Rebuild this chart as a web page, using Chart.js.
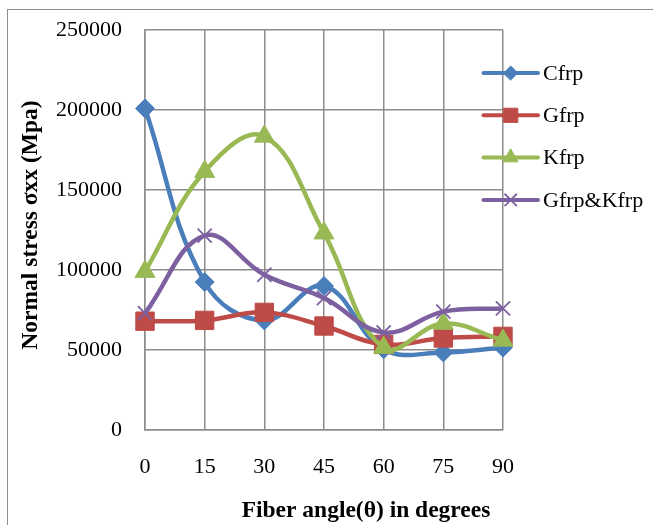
<!DOCTYPE html>
<html>
<head>
<meta charset="utf-8">
<script src="https://cdn.jsdelivr.net/npm/chart.js@4/dist/chart.umd.min.js"></script>
<style>
  html, body { margin: 0; padding: 0; background: #fff; }
  #wrap { position: relative; width: 653px; height: 525px; overflow: hidden; }
  #frame { position: absolute; left: 7px; top: 9px; width: 720px; height: 600px;
           border: 1.5px solid #8c8c8c; box-sizing: border-box; }
  canvas { position: absolute; left: 0; top: 0; }
</style>
</head>
<body>
<div id="wrap">
  <div id="frame"></div>
  <canvas id="c" width="653" height="525"></canvas>
</div>
<script>
// Fiber angle categories (degrees)
const angles = ['0', '15', '30', '45', '60', '75', '90'];

// Normal stress σxx (MPa) per laminate material
const cfrp     = [201000, 92500, 68500, 90000, 50500, 48500, 51500];
const gfrp     = [68000, 68500, 73500, 65000, 53500, 57500, 58500];
const kfrp     = [99000, 161500, 183500, 123000, 51500, 66500, 56000];
const gfrpKfrp = [73000, 121500, 97000, 82500, 61000, 74000, 76000];

const seriesNames = ['Cfrp', 'Gfrp', 'Kfrp', 'Gfrp&Kfrp'];

// Y axis range and tick spacing
const yMin = 0, yMax = 250000, yStep = 50000;

const xTitle = 'Fiber angle(θ) in degrees';
const yTitle = 'Normal stress σxx (Mpa)';

const colors  = ['#4a7ebb', '#be4b48', '#98b954', '#7d60a0'];
const styles  = ['rectRot', 'rect', 'triangle', 'crossRot'];
const radii   = [9.5, 13, 11.5, 10];
const legendRadii = [7, 10, 8.5, 8];

const serif = '"Liberation Serif", "Times New Roman", serif';

function makeSet(i, data) {
  const isCross = styles[i] === 'crossRot';
  return {
    label: seriesNames[i],
    data: data,
    borderColor: colors[i],
    backgroundColor: colors[i],
    borderWidth: 4.5,
    tension: 0.4,
    pointStyle: styles[i],
    pointRadius: radii[i],
    pointHoverRadius: radii[i],
    pointBorderWidth: isCross ? 1.8 : 1,
    pointBorderColor: colors[i],
    pointBackgroundColor: colors[i],
    order: 3 - i
  };
}

// Axis titles and the right-hand legend (line through marker)
const decorations = {
  id: 'decorations',
  afterDraw(chart) {
    const ctx = chart.ctx;
    const area = chart.chartArea;
    ctx.save();
    ctx.fillStyle = '#000';
    ctx.font = 'bold 23.5px ' + serif;
    ctx.textAlign = 'center';
    ctx.textBaseline = 'middle';
    ctx.fillText(xTitle, 366, 511);
    ctx.save();
    ctx.translate(31, (area.top + area.bottom) / 2 - 5);
    ctx.rotate(-Math.PI / 2);
    ctx.fillText(yTitle, 0, 0);
    ctx.restore();

    const x0 = 483.5, x1 = 538, xm = (x0 + x1) / 2, xt = 543;
    const y0 = 73, dy = 42.3;
    chart.data.datasets.forEach((ds, i) => {
      const y = y0 + i * dy;
      ctx.strokeStyle = colors[i];
      ctx.fillStyle = colors[i];
      ctx.lineWidth = 4;
      ctx.lineCap = 'round';
      ctx.beginPath();
      ctx.moveTo(x0, y);
      ctx.lineTo(x1, y);
      ctx.stroke();
      ctx.lineWidth = styles[i] === 'crossRot' ? 1.8 : 1;
      Chart.helpers.drawPoint(ctx, {
        pointStyle: styles[i], radius: legendRadii[i], rotation: 0,
        borderWidth: ctx.lineWidth
      }, xm, y);
      ctx.fillStyle = '#000';
      ctx.font = '22px ' + serif;
      ctx.textAlign = 'left';
      ctx.textBaseline = 'middle';
      ctx.fillText(ds.label, xt, y + 1);
    });
    ctx.restore();
  }
};

new Chart(document.getElementById('c'), {
  type: 'line',
  data: {
    labels: angles,
    datasets: [
      makeSet(0, cfrp),
      makeSet(1, gfrp),
      makeSet(2, kfrp),
      makeSet(3, gfrpKfrp)
    ]
  },
  options: {
    responsive: false,
    animation: false,
    events: [],
    layout: { padding: { top: 30, right: 150, left: 0, bottom: 0 } },
    plugins: { legend: { display: false }, tooltip: { enabled: false }, title: { display: false } },
    scales: {
      x: {
        type: 'category',
        offset: false,
        grid: { color: '#8c8c8c', lineWidth: 1.5, drawTicks: false },
        border: { color: '#8c8c8c', width: 1.5 },
        ticks: { color: '#000', font: { family: serif, size: 22 }, padding: 24, maxRotation: 0 },
        afterFit(scale) { scale.height = 95; scale.paddingLeft = 0; scale.paddingRight = 0; }
      },
      y: {
        min: yMin, max: yMax,
        grid: { color: '#8c8c8c', lineWidth: 1.5, drawTicks: false },
        border: { color: '#8c8c8c', width: 1.5 },
        ticks: {
          color: '#000', font: { family: serif, size: 22 }, stepSize: yStep, padding: 23,
          callback: (v) => String(v)
        },
        afterFit(scale) { scale.width = 145; scale.paddingTop = 0; scale.paddingBottom = 0; }
      }
    }
  },
  plugins: [decorations]
});
</script>
</body>
</html>
